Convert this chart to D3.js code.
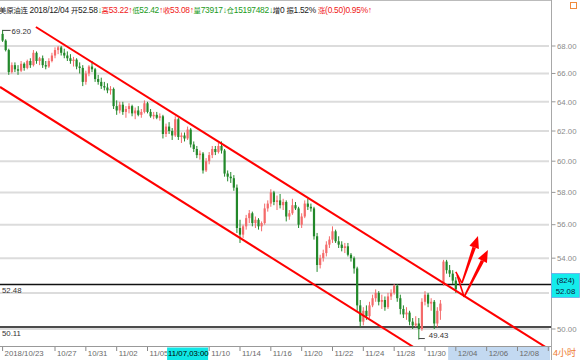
<!DOCTYPE html>
<html><head><meta charset="utf-8">
<script src="https://cdn.jsdelivr.net/npm/d3@7"></script>
<style>
body{margin:0;background:#fff;}
svg{display:block;font-family:"Liberation Sans",Arial,"Noto Sans CJK SC",sans-serif;}
</style>
</head><body>
<svg id="c" width="580" height="360"></svg>
<script>
// ---------- data ----------
const openP = [68.9,68.4,67.7,66.1,66.6,66.3,66.2,66.7,66.4,66.9,66.6,67.5,66.9,67.1,66.6,66.5,66.9,67.3,67.7,67.9,
67.5,67.3,67.1,66.9,67.0,66.5,66.4,65.4,66.0,66.5,66.3,65.6,65.4,65.1,65.0,64.8,64.9,63.7,63.4,63.8,
63.3,63.5,63.7,63.2,63.4,63.1,63.3,63.9,63.3,63.0,63.1,62.9,63.0,61.8,62.3,62.0,61.7,62.8,61.6,61.7,
61.5,62.1,61.1,60.8,60.4,60.5,59.4,60.0,60.4,60.8,60.6,61.0,60.7,59.2,59.0,58.9,58.3,55.8,55.4,55.9,
56.4,56.7,56.1,56.3,55.9,56.1,57.0,57.3,58.0,57.4,57.5,57.2,57.4,56.5,56.7,57.2,57.0,56.0,56.5,57.3,
57.1,57.0,55.3,53.6,54.0,54.3,54.8,55.1,55.6,55.0,54.8,54.6,54.7,54.2,54.0,53.4,51.3,50.4,51.0,50.7,
51.3,51.7,52.0,51.5,51.6,51.2,51.8,52.0,52.4,51.7,51.1,50.8,50.9,50.4,50.2,50.3,50.0,51.5,51.9,51.4,
51.5,50.3,51.0,52.5,53.8,53.3,53.1,52.7];
const highP = [69.2,68.5,67.8,66.8,66.8,66.6,66.9,66.8,67.0,67.1,67.7,67.6,67.2,67.3,66.9,67.1,67.5,67.9,68.0,68.0,
67.8,67.6,67.4,67.2,67.1,66.8,66.6,66.2,66.6,66.9,66.4,65.9,65.7,65.4,65.3,65.1,65.0,64.1,64.0,64.0,
63.7,63.9,63.8,63.6,63.7,63.5,64.1,64.0,63.5,63.3,63.3,63.2,63.1,62.5,62.6,62.2,63.0,62.9,61.9,61.9,
62.3,62.2,61.3,61.0,60.7,60.6,60.2,60.6,61.0,61.0,61.2,61.3,60.8,59.4,59.3,59.1,58.5,56.3,56.0,56.6,
56.9,56.8,56.5,56.4,56.2,57.3,57.5,58.2,58.1,57.8,57.9,57.6,57.5,56.9,57.6,57.4,57.1,56.7,57.5,57.6,
57.3,57.1,55.5,54.2,54.5,55.0,55.3,55.9,55.7,55.3,55.0,54.9,54.9,54.3,54.1,53.5,51.6,51.2,51.3,51.5,
51.9,52.2,52.1,51.9,51.8,52.0,52.2,52.5,52.5,51.9,51.3,51.2,51.0,50.6,50.7,50.6,51.7,52.1,52.0,51.7,
51.6,51.2,51.6,53.9,53.9,53.6,53.3,52.9];
const lowP = [68.3,67.6,65.9,66.0,66.1,65.9,66.1,66.2,66.3,66.4,66.5,66.7,66.6,66.4,66.3,66.4,66.8,67.1,67.4,67.3,
67.1,66.9,66.7,66.5,66.3,66.0,65.1,65.2,65.8,66.1,65.4,65.2,64.9,64.8,64.6,64.5,63.5,63.1,63.2,63.1,
62.9,63.2,63.0,62.8,63.0,62.9,63.2,63.2,62.9,62.8,62.8,62.7,61.5,61.6,61.8,61.4,61.6,61.4,61.2,61.3,
61.4,60.9,60.6,60.2,60.1,59.2,59.3,59.8,60.2,60.4,60.5,60.5,59.0,58.7,58.6,58.1,55.5,54.9,55.2,55.7,
56.1,55.9,55.8,55.7,55.6,56.0,56.8,57.1,57.2,56.9,57.0,56.9,56.2,56.3,56.6,56.9,55.8,55.8,56.4,56.9,
56.8,55.1,53.2,53.4,53.8,54.1,54.6,54.9,54.9,54.6,54.4,54.3,54.1,53.8,53.1,51.0,50.1,50.2,50.5,50.6,
51.2,51.5,51.3,51.1,51.0,51.1,51.6,51.9,51.5,50.8,50.6,50.5,50.2,50.0,50.1,49.43,49.9,51.3,51.2,51.0,
50.0,50.1,50.5,52.4,53.1,52.9,52.5,52.0];
const closeP = [68.4,67.7,66.1,66.6,66.3,66.2,66.7,66.4,66.9,66.6,67.5,66.9,67.1,66.6,66.5,66.9,67.3,67.7,67.9,67.5,
67.3,67.1,66.9,67.0,66.5,66.4,65.4,66.0,66.5,66.3,65.6,65.4,65.1,65.0,64.8,64.9,63.7,63.4,63.8,63.3,
63.5,63.7,63.2,63.4,63.1,63.3,63.9,63.3,63.0,63.1,62.9,63.0,61.8,62.3,62.0,61.7,62.8,61.6,61.7,61.5,
62.1,61.1,60.8,60.4,60.5,59.4,60.0,60.4,60.8,60.6,61.0,60.7,59.2,59.0,58.9,58.3,55.8,55.4,55.9,56.4,
56.7,56.1,56.3,55.9,56.1,57.0,57.3,58.0,57.4,57.5,57.2,57.4,56.5,56.7,57.2,57.0,56.0,56.5,57.3,57.1,
57.0,55.3,53.6,54.0,54.3,54.8,55.1,55.6,55.0,54.8,54.6,54.7,54.2,54.0,53.4,51.3,50.4,51.0,50.7,51.3,
51.7,52.0,51.5,51.6,51.2,51.8,52.0,52.4,51.7,51.1,50.8,50.9,50.4,50.2,50.3,50.0,51.5,51.9,51.4,51.5,
50.3,51.0,51.4,53.8,53.3,53.1,52.7,52.2];

const yTicks = [50,52,54,56,58,60,62,64,66,68];
const xTickBars = [0,17,27,37,47,67,77,87,97,107,117,127,137,147,157,167,177];
const xTickLabels = ["2018/10/23","10/27","10/31","11/02","11/05","11/10","11/14","11/16","11/20","11/22","11/24","11/28","11/30","12/04","12/06","12/08",""];
const levels = [52.48, 50.11];
const upperLine = [{i:10.8,p:69.42},{i:176.1,p:49.03}];
const lowerLine = [{i:-0.84,p:65.04},{i:134.5,p:48.9}];
const arrow1 = [{i:147.0,p:53.2},{i:149.0,p:52.56},{i:154.2,p:55.32}];
const arrow2 = [{i:147.4,p:53.02},{i:149.7,p:51.77},{i:157.4,p:54.48}];
const maxLabel = {i:0, p:69.20, text:"69.20"};
const minLabel = {i:135, p:49.43, text:"49.43"};
const lastPrice = "52.08", lastVol = "(824)";
const crossLabel = {i:55.3, text:"11/07,03:00"};
// header pieces: [text, colour, isCJK]
const header = [
  ["美原油连","#222",1],[" 2018/12/04 ","#222",0],
  ["开","#222",1],["52.58","#222",0],["↓","#1a9a1a",0],
  ["高","#f02020",1],["53.22","#f02020",0],["↑","#f02020",0],
  ["低","#1a9a1a",1],["52.42","#1a9a1a",0],["↑","#f02020",0],
  ["收","#f02020",1],["53.08","#f02020",0],["↑","#f02020",0],
  ["量","#1a9a1a",1],["73917","#1a9a1a",0],["↓","#1a9a1a",0],
  ["仓","#1a9a1a",1],["15197482","#1a9a1a",0],["↓","#1a9a1a",0],
  ["增","#222",1],["0 ","#222",0],
  ["振","#222",1],["1.52% ","#222",0],
  ["涨","#f02020",1],["(0.50)0.95%","#f02020",0],["↑","#f02020",0]
];

// ---------- layout ----------
const plotL=0, plotR=551, plotT=20, plotB=346;
const svg = d3.select("#c");
const x = d3.scaleLinear().domain([0,178]).range([2.6,551.4]);
const y = d3.scaleLog().domain([50,68]).range([329,46]);
const RED="#f00", UP="#f46a6a", DOWN="#22882a";

svg.append("rect").attr("width",580).attr("height",360).attr("fill","#fff");
svg.append("defs").append("clipPath").attr("id","plot")
  .append("rect").attr("x",plotL).attr("y",plotT).attr("width",plotR-plotL).attr("height",plotB-plotT);

// header
const ht = svg.append("text").attr("x",-1).attr("y",13).attr("font-size",8.4)
  .attr("textLength",373).attr("lengthAdjust","spacing").attr("xml:space","preserve")
  .style("white-space","pre");
header.forEach(p=>{
  ht.append("tspan").attr("fill",p[1]).attr("font-size",p[2]?7.4:8.4).text(p[0]);
});
// orange icon
svg.append("rect").attr("x",570.5).attr("y",2.5).attr("width",6).attr("height",6)
  .attr("fill","#fff").attr("stroke","#f08a3c").attr("stroke-width",1);
svg.append("line").attr("x1",0).attr("x2",551).attr("y1",0.5).attr("y2",0.5).attr("stroke","#bbb");

// grid
const grid = svg.append("g");
grid.selectAll("line").data(yTicks).join("line")
  .attr("x1",plotL).attr("x2",plotR-2).attr("y1",d=>y(d)).attr("y2",d=>y(d))
  .attr("stroke","#dcdcdc").attr("stroke-width",2);

// horizontal levels
const lv = svg.append("g");
lv.selectAll("line").data(levels).join("line")
  .attr("x1",plotL).attr("x2",plotR).attr("y1",d=>y(d)).attr("y2",d=>y(d))
  .attr("stroke","#111").attr("stroke-width",1.6);
lv.selectAll("text").data(levels).join("text")
  .attr("x",2).attr("y",d=>y(d)+8.6).attr("font-size",7.8).attr("fill","#333")
  .text(d=>d.toFixed(2));

// candles
const cg = svg.append("g").attr("clip-path","url(#plot)");
const idx = d3.range(closeP.length);
cg.selectAll("line.w").data(idx).join("line").attr("class","w")
  .attr("x1",i=>x(i)).attr("x2",i=>x(i))
  .attr("y1",i=>y(highP[i])).attr("y2",i=>y(lowP[i]))
  .attr("stroke",i=>closeP[i]>=openP[i]?UP:DOWN).attr("stroke-width",1);
cg.selectAll("rect.b").data(idx).join("rect").attr("class","b")
  .attr("x",i=>x(i)-1.1).attr("width",2.2)
  .attr("y",i=>y(Math.max(openP[i],closeP[i])))
  .attr("height",i=>Math.max(1,y(Math.min(openP[i],closeP[i]))-y(Math.max(openP[i],closeP[i]))))
  .attr("fill",i=>closeP[i]>=openP[i]?UP:DOWN);

// extreme labels
const lab = svg.append("g").attr("font-size",7.8).attr("fill","#333");
lab.append("line").attr("x1",x(maxLabel.i)).attr("x2",x(maxLabel.i)+8)
  .attr("y1",y(maxLabel.p)+0.5).attr("y2",y(maxLabel.p)+0.5).attr("stroke","#444");
lab.append("text").attr("x",x(maxLabel.i)+9).attr("y",y(maxLabel.p)+4.5).text(maxLabel.text);
lab.append("line").attr("x1",x(minLabel.i)).attr("x2",x(minLabel.i)+6)
  .attr("y1",y(minLabel.p)-1).attr("y2",y(minLabel.p)-1).attr("stroke","#444");
lab.append("text").attr("x",x(minLabel.i)+10).attr("y",y(minLabel.p)-1.5).text(minLabel.text);

// trend lines
const tl = svg.append("g").attr("clip-path","url(#plot)");
[upperLine, lowerLine].forEach(L=>{
  tl.append("line").attr("x1",x(L[0].i)).attr("y1",y(L[0].p))
    .attr("x2",x(L[1].i)).attr("y2",y(L[1].p))
    .attr("stroke",RED).attr("stroke-width",2);
});

// arrows
function drawArrow(pts){
  const P = pts.map(d=>[x(d.i), y(d.p)]);
  tl.append("line").attr("x1",P[0][0]).attr("y1",P[0][1]).attr("x2",P[1][0]).attr("y2",P[1][1])
    .attr("stroke",RED).attr("stroke-width",1.6);
  const a=P[1], b=P[2];
  const dx=b[0]-a[0], dy=b[1]-a[1], L=Math.hypot(dx,dy), ux=dx/L, uy=dy/L, px=-uy, py=ux;
  const hl=12, hw=5;
  const base=[b[0]-ux*hl, b[1]-uy*hl];
  const shaft=[[a[0]+px*0.8,a[1]+py*0.8],[base[0]+px*1.8,base[1]+py*1.8],
               [base[0]-px*1.8,base[1]-py*1.8],[a[0]-px*0.8,a[1]-py*0.8]];
  tl.append("polygon").attr("points",shaft.map(p=>p.join(",")).join(" ")).attr("fill",RED);
  const head=[b,[base[0]+px*hw,base[1]+py*hw],[base[0]-px*hw,base[1]-py*hw]];
  tl.append("polygon").attr("points",head.map(p=>p.join(",")).join(" ")).attr("fill",RED);
}
drawArrow(arrow1);
drawArrow(arrow2);

// right axis
const ra = svg.append("g");
ra.append("line").attr("x1",plotR+0.5).attr("x2",plotR+0.5).attr("y1",0).attr("y2",360).attr("stroke","#a8a8a8");
ra.selectAll("line.t").data(yTicks).join("line").attr("class","t")
  .attr("x1",plotR+0.5).attr("x2",plotR+4.5).attr("y1",d=>y(d)).attr("y2",d=>y(d)).attr("stroke","#999");
ra.selectAll("text").data(yTicks).join("text")
  .attr("x",plotR+6).attr("y",d=>y(d)+2.8).attr("font-size",7.8).attr("fill","#8a8a8a")
  .text(d=>d.toFixed(2));
// last price box
const lp = y(52.08);
ra.append("rect").attr("x",plotR+0.5).attr("y",lp-18).attr("width",28).attr("height",24)
  .attr("fill","#14ecec").attr("stroke","#6aa8e8").attr("stroke-width",0.8);
ra.append("text").attr("x",plotR+14.5).attr("y",lp-8.5).attr("text-anchor","middle")
  .attr("font-size",7.8).attr("fill","#0a1a3a").text(lastVol);
ra.append("text").attr("x",plotR+14.5).attr("y",lp+3).attr("text-anchor","middle")
  .attr("font-size",7.8).attr("fill","#0a1a3a").text(lastPrice);

// bottom axis
const ba = svg.append("g");
ba.append("rect").attr("x",x(144.5)).attr("y",plotB+1).attr("width",plotR-x(144.5)-1).attr("height",360-plotB-1)
  .attr("fill","#c3d9f1");
ba.append("line").attr("x1",0).attr("x2",plotR).attr("y1",plotB+0.5).attr("y2",plotB+0.5).attr("stroke","#999");
ba.selectAll("line.t").data(xTickBars).join("line").attr("class","t")
  .attr("x1",d=>x(d)).attr("x2",d=>x(d)).attr("y1",plotB+1).attr("y2",plotB+5).attr("stroke","#888");
ba.selectAll("text").data(xTickBars).join("text")
  .attr("x",d=>x(d)+2).attr("y",355.5).attr("font-size",7.8).attr("fill","#6a6a6a")
  .text((d,k)=>xTickLabels[k]);
ba.append("rect").attr("x",x(crossLabel.i)-6).attr("y",plotB+1.5).attr("width",41).attr("height",12.5)
  .attr("fill","#0fe6e6");
ba.append("text").attr("x",x(crossLabel.i)-5).attr("y",355.5).attr("font-size",7.8).attr("fill","#000")
  .text(crossLabel.text);
svg.append("text").attr("x",553).attr("y",356).attr("font-size",9).attr("fill","#ee7a30").text("4小时");
</script>
</body></html>
